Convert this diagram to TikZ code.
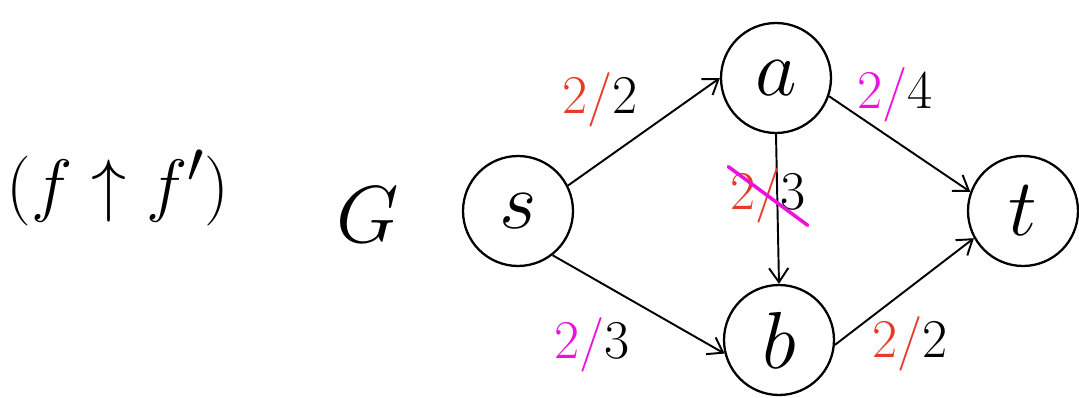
\documentclass[tikz,border=0pt]{standalone}
\usepackage{amsmath,amssymb}
\usepackage{graphicx}
\usepackage{xcolor}
\usepackage{tikz}
\usetikzlibrary{arrows.meta}
\definecolor{RojoFlujo}{RGB}{232,58,40}
\definecolor{MagentaFlujo}{RGB}{238,16,222}
\newcommand{\grande}[2]{\scalebox{#1}{\Huge #2}}

\begin{document}
\begin{tikzpicture}[x=0.02cm,y=-0.02cm,>={Straight Barb[length=8pt,width=11pt]},
  vertice/.style={circle,draw,line width=1.3pt,minimum size=2.2cm,inner sep=0pt},
  arista/.style={->,line width=1.1pt},
  flujo/.style={inner sep=1pt}]
  \useasboundingbox (0,0) rectangle (1079,398);

  \node (flujos) at (118,188) {\grande{1.6}{$(f\uparrow f')$}};
  \node (grafo) at (368,215) {\grande{1.85}{$G$}};

  \node[vertice] (s) at (518,211) {\grande{1.85}{$s$}};
  \node[vertice] (a) at (776,78) {\grande{1.85}{$a$}};
  \node[vertice] (b) at (779,340) {\grande{1.85}{$b$}};
  \node[vertice] (t) at (1023,211) {\grande{1.85}{$t$}};

  \draw[arista] (s.27) -- (a.180);
  \draw[arista] (s.-52) -- (b.194);
  \draw[arista] (a.-19) -- (t.160);
  \draw[arista] (b.-5) -- (t.209);
  \draw[arista] (a.south) -- (b.north);

  \node[flujo] (fsa) at (600,100) {\grande{1.25}{\textcolor{RojoFlujo}{2/}2}};
  \node[flujo] (fat) at (895,95) {\grande{1.25}{\textcolor{MagentaFlujo}{2/}4}};
  \node[flujo] (fab) at (768,196) {\grande{1.25}{\textcolor{RojoFlujo}{2/}3}};
  \draw[MagentaFlujo,line width=2pt,line cap=round] (fab.north west) -- (fab.south east);
  \node[flujo] (fsb) at (592,345) {\grande{1.25}{\textcolor{MagentaFlujo}{2/}3}};
  \node[flujo] (fbt) at (910,344) {\grande{1.25}{\textcolor{RojoFlujo}{2/}2}};
\end{tikzpicture}
\end{document}
